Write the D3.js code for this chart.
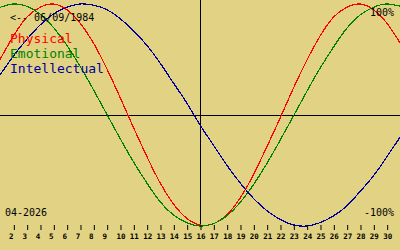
<!DOCTYPE html>
<html lang="en">
<head>
    <meta charset="UTF-8">
    <title>Biorhythm | D3</title>
    <style>
        body { margin: 0; background: #e2d384; }
        svg { display: block; }
        text { font-family: "DejaVu Sans Mono", monospace; }
    </style>
</head>
<body>
    <div id="container"></div>

    <script type="text/javascript" src="https://d3js.org/d3.v7.min.js"></script>
    <script type="text/javascript">
        // days of the month, 1 .. 31 (31 is the right edge)
        var days = d3.range(1, 32);
        var tickDays = d3.range(2, 31);

        // values, -1 .. 1, one per day
        var physical = [0.50, 0.71, 0.88, 0.97, 1.00, 0.95, 0.83, 0.65, 0.42, 0.16,
            -0.11, -0.37, -0.61, -0.80, -0.93, -0.99, -0.98, -0.90, -0.75, -0.54,
            -0.29, -0.03, 0.24, 0.49, 0.71, 0.88, 0.97, 1.00, 0.95, 0.83, 0.65];
        var emotional = [0.97, 1.00, 0.98, 0.91, 0.79, 0.63, 0.44, 0.23, 0.01, -0.21,
            -0.42, -0.61, -0.78, -0.90, -0.97, -1.00, -0.98, -0.91, -0.79, -0.63,
            -0.44, -0.23, -0.01, 0.21, 0.42, 0.61, 0.78, 0.90, 0.97, 1.00, 0.98];
        var intellectual = [0.36, 0.53, 0.68, 0.81, 0.91, 0.97, 1.00, 0.99, 0.95, 0.87,
            0.76, 0.63, 0.47, 0.29, 0.11, -0.09, -0.27, -0.45, -0.61, -0.75,
            -0.86, -0.94, -0.99, -1.00, -0.97, -0.91, -0.82, -0.69, -0.55, -0.38, -0.20];

        var series = [
            { name: "Physical", values: physical, color: "#ff0000" },
            { name: "Emotional", values: emotional, color: "#008000" },
            { name: "Intellectual", values: intellectual, color: "#0000a0" }
        ];

        var birthLabel = "<-- 06/09/1984";
        var monthLabel = "04-2026";
        var today = 16;

        var width = 400, height = 250;

        var svg = d3.select("#container")
            .append("svg")
            .attr("width", width)
            .attr("height", height);

        svg.append("rect")
            .attr("width", width)
            .attr("height", height)
            .attr("fill", "#e2d384");

        var x = d3.scaleLinear().domain([1, 31]).range([0, 400]);
        var y = d3.scaleLinear().domain([-1, 1]).range([226, 4]);

        // zero line and today line
        svg.append("line")
            .attr("x1", 0).attr("x2", width)
            .attr("y1", y(0) + 0.5).attr("y2", y(0) + 0.5)
            .attr("stroke", "#000");
        svg.append("line")
            .attr("x1", x(today) + 0.5).attr("x2", x(today) + 0.5)
            .attr("y1", 0).attr("y2", 226)
            .attr("stroke", "#000");

        var line = d3.line()
            .x(function(d, i) { return x(days[i]); })
            .y(function(d) { return y(d); })
            .curve(d3.curveNatural);

        svg.append("g")
            .selectAll("path")
            .data(series)
            .enter()
                .append("path")
                .attr("d", function(d) { return line(d.values); })
                .attr("fill", "none")
                .attr("stroke", function(d) { return d.color; })
                .attr("stroke-width", 1.2)
                .attr("shape-rendering", "crispEdges");

        // day axis
        var axis = svg.append("g")
            .attr("transform", "translate(0.5, 225)")
            .call(d3.axisBottom(x).tickValues(tickDays).tickSize(5).tickPadding(4)
                .tickFormat(d3.format("d")));
        axis.select(".domain").remove();
        axis.selectAll("line").attr("stroke", "#000");
        axis.selectAll("text")
            .attr("font-family", "DejaVu Sans Mono")
            .attr("font-size", 7.5)
            .attr("font-weight", "bold")
            .attr("fill", "#000")
            .attr("dx", function(d) { return d < 10 ? -3 : 0; });

        // labels
        svg.append("text")
            .attr("x", 10).attr("y", 21)
            .attr("font-size", 10)
            .text(birthLabel);
        svg.append("text")
            .attr("x", 394).attr("y", 16)
            .attr("font-size", 10)
            .attr("text-anchor", "end")
            .text("100%");
        svg.append("text")
            .attr("x", 394).attr("y", 216)
            .attr("font-size", 10)
            .attr("text-anchor", "end")
            .text("-100%");
        svg.append("text")
            .attr("x", 5).attr("y", 216)
            .attr("font-size", 10)
            .text(monthLabel);

        svg.append("g")
            .selectAll("text")
            .data(series)
            .enter()
                .append("text")
                .attr("x", 10)
                .attr("y", function(d, i) { return 43 + i * 15; })
                .attr("font-size", 13)
                .attr("fill", function(d) { return d.color; })
                .text(function(d) { return d.name; });
    </script>
</body>
</html>
